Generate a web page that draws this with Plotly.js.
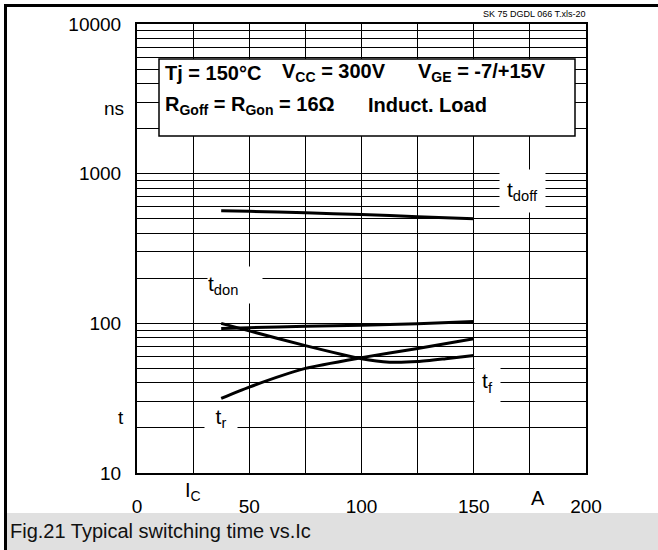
<!DOCTYPE html>
<html>
<head>
<meta charset="utf-8">
<script src="https://cdn.plot.ly/plotly-3.0.1.min.js"></script>
<style>html,body{margin:0;padding:0;background:#fff}#chart{width:658px;height:550px}</style>
</head>
<body>
<div id="chart"></div>
<script>
// ---- data ----
const ic      = [37.5, 50, 75, 100, 125, 150];          // collector current, A
const tdoff   = [566, 560, 548, 533, 516, 499];          // ns
const tdon    = [92.5, 93.5, 95.5, 97, 99.5, 103];       // ns
const icTf    = [37.5, 50, 75, 100, 112.5, 125, 137.5, 150];
const tf      = [100, 89, 71, 58, 55, 55.5, 58, 61];     // ns
const tr      = [31.5, 37.5, 50, 59, 68, 79];            // ns

const xTickVals  = [0, 50, 100, 150, 200];
const xTickText  = ['0', '50', '100', '150', '200'];
const xMinorVals = [25, 75, 125, 175];
const yTickVals  = [10, 100, 1000, 10000];
const yTickText  = ['10', '100', '1000', '10000'];

// log minor grid: 2..9 x each decade
const yMinorVals = [];
for (let d = 0; d < yTickVals.length - 1; d++) {
  for (let m = 2; m <= 9; m++) yMinorVals.push(yTickVals[d] * m);
}

const FONT = 'Liberation Sans, Arial, Helvetica, sans-serif';
const lineStyle = {color: '#000', width: 3, shape: 'spline', smoothing: 0.6};

const traces = [
  {x: ic, y: tdoff, mode: 'lines', line: lineStyle, name: 'tdoff', hoverinfo: 'skip'},
  {x: ic, y: tdon,  mode: 'lines', line: lineStyle, name: 'tdon', hoverinfo: 'skip'},
  {x: icTf, y: tf,  mode: 'lines', line: lineStyle, name: 'tf', hoverinfo: 'skip'},
  {x: ic, y: tr,    mode: 'lines', line: lineStyle, name: 'tr', hoverinfo: 'skip'}
];

// pixel helpers for paper coords (plot area 137..586 x 24..473)
const L = 137, T = 24, W = 449, H = 449;
const px = v => (v - L) / W;
const py = v => (T + H - v) / H;

// annotations on a log axis take log10 of the value
const curveLbl = (txt, x, y, w, h, align) => ({
  text: txt, x: x, y: Math.log10(y), xref: 'x', yref: 'y', showarrow: false,
  bgcolor: '#fff', width: w, height: h, borderpad: 0, align: align || 'center',
  font: {family: FONT, size: 21, color: '#000'}
});

const boxText = (txt, xp, yp) => ({
  text: txt, x: px(xp), y: py(yp), xref: 'paper', yref: 'paper',
  xanchor: 'left', yanchor: 'middle', showarrow: false,
  font: {family: FONT, size: 20, color: '#000'}
});

const layout = {
  width: 658, height: 550,
  margin: {l: L, r: 658 - L - W, t: T, b: 550 - T - H},
  paper_bgcolor: '#fff', plot_bgcolor: '#fff',
  showlegend: false,
  font: {family: FONT, size: 19, color: '#000'},
  xaxis: {
    range: [0, 200], tickvals: xTickVals, ticktext: xTickText,
    showgrid: true, gridcolor: '#000', gridwidth: 1, zeroline: false,
    showline: true, linecolor: '#000', linewidth: 2, mirror: true,
    ticks: 'outside', ticklen: 15, tickcolor: 'rgba(0,0,0,0)',
    minor: {tickvals: xMinorVals, showgrid: true, gridcolor: '#000', gridwidth: 1, ticks: ''},
    tickfont: {family: FONT, size: 19, color: '#000'}, fixedrange: true
  },
  yaxis: {
    type: 'log', range: [1, 4], tickvals: yTickVals, ticktext: yTickText,
    showgrid: true, gridcolor: '#000', gridwidth: 1, zeroline: false,
    showline: true, linecolor: '#000', linewidth: 2, mirror: true,
    ticks: 'outside', ticklen: 10, tickcolor: 'rgba(0,0,0,0)',
    minor: {tickvals: yMinorVals, showgrid: true, gridcolor: '#000', gridwidth: 1, ticks: ''},
    tickfont: {family: FONT, size: 19, color: '#000'}, fixedrange: true
  },
  shapes: [
    // condition box
    {type: 'rect', xref: 'paper', yref: 'paper', layer: 'above',
     x0: px(159), x1: px(575), y0: py(136), y1: py(59),
     fillcolor: '#fff', line: {color: '#000', width: 1.5}},
    // caption band
    {type: 'rect', xref: 'paper', yref: 'paper', layer: 'below',
     x0: px(4), x1: px(660), y0: py(513), y1: py(552),
     fillcolor: '#e0e0e0', line: {width: 0}},
    // outer frame: top and left
    {type: 'line', xref: 'paper', yref: 'paper', layer: 'above',
     x0: px(4), x1: px(660), y0: py(5.5), y1: py(5.5),
     line: {color: '#000', width: 3}},
    {type: 'line', xref: 'paper', yref: 'paper', layer: 'above',
     x0: px(5.5), x1: px(5.5), y0: py(4), y1: py(552),
     line: {color: '#000', width: 3}}
  ],
  annotations: [
    curveLbl('t<sub>doff</sub>', 171.7, 764, 45, 42),
    curveLbl('t<sub>don</sub>', 43.75, 179, 54, 36, 'left'),
    curveLbl('t<sub>f</sub>', 156.3, 40.1, 25, 41),
    curveLbl('t<sub>r</sub>', 37.5, 23.3, 32, 30),
    boxText('<b>Tj = 150°C</b>', 163, 73),
    boxText('<b>V<sub>CC</sub> = 300V</b>', 280, 73),
    boxText('<b>V<sub>GE</sub> = -7/+15V</b>', 416, 73),
    boxText('<b>R<sub>Goff</sub> = R<sub>Gon</sub> = 16Ω</b>', 163, 105),
    boxText('<b>Induct. Load</b>', 366, 105),
    // axis unit labels
    {text: 'ns', x: px(126), y: py(109), xref: 'paper', yref: 'paper', xanchor: 'right', yanchor: 'middle',
     showarrow: false, font: {family: FONT, size: 19, color: '#000'}},
    {text: 't', x: px(126), y: py(417), xref: 'paper', yref: 'paper', xanchor: 'right', yanchor: 'middle',
     showarrow: false, font: {family: FONT, size: 19, color: '#000'}},
    {text: 'I<sub>C</sub>', x: 25, y: py(492), xref: 'x', yref: 'paper', xanchor: 'center', yanchor: 'middle',
     showarrow: false, font: {family: FONT, size: 20, color: '#000'}},
    {text: 'A', x: 178.5, y: py(498), xref: 'x', yref: 'paper', xanchor: 'center', yanchor: 'middle',
     showarrow: false, font: {family: FONT, size: 20, color: '#000'}},
    // file tag
    {text: 'SK 75 DGDL 066 T.xls-20', x: px(588), y: py(14), xref: 'paper', yref: 'paper',
     xanchor: 'right', yanchor: 'middle', showarrow: false,
     font: {family: FONT, size: 9, color: '#000'}},
    // caption
    {text: 'Fig.21 Typical switching time vs.Ic', x: px(8), y: py(531), xref: 'paper', yref: 'paper',
     xanchor: 'left', yanchor: 'middle', showarrow: false,
     font: {family: FONT, size: 20, color: '#111'}}
  ]
};

Plotly.newPlot('chart', traces, layout, {staticPlot: true, displayModeBar: false});
</script>
</body>
</html>
